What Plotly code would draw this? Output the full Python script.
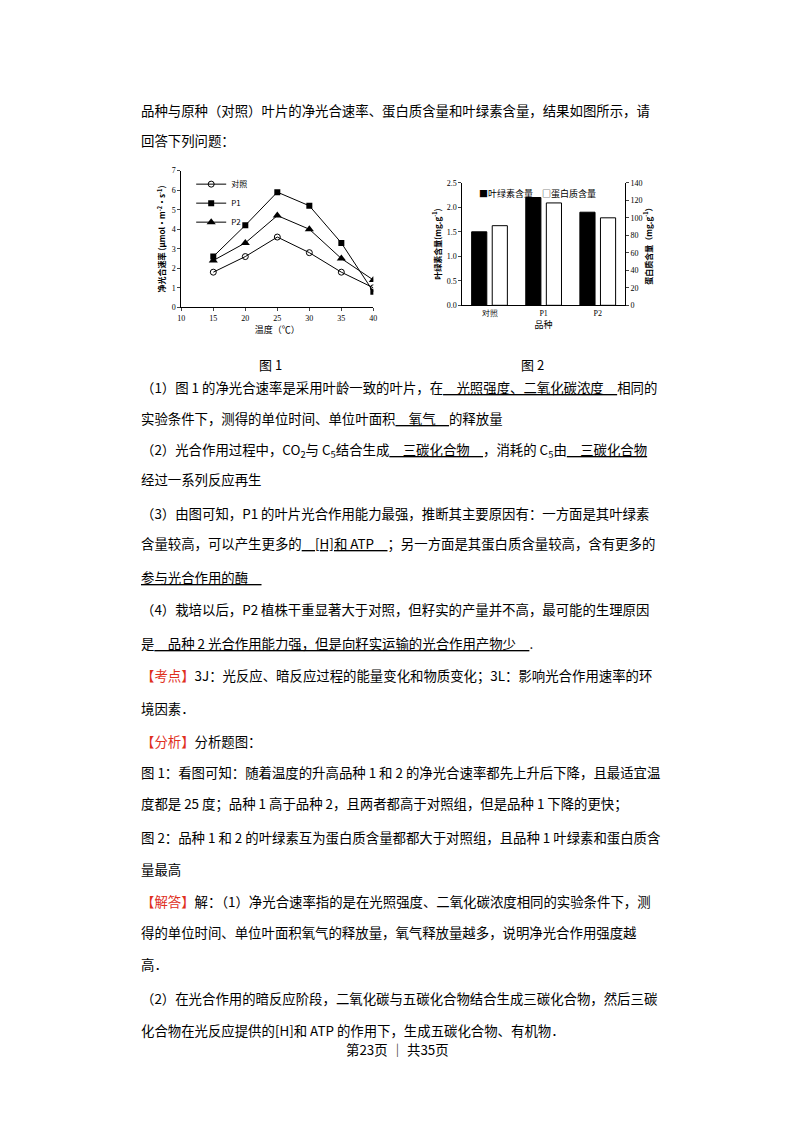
import plotly.graph_objects as go

temps = [15, 20, 25, 30, 35, 40]
ctrl = [1.8, 2.6, 3.6, 2.8, 1.8, 1.0]
p1 = [2.6, 4.2, 5.9, 5.2, 3.3, 0.8]
p2 = [2.4, 3.3, 4.7, 4.0, 2.5, 1.4]
varieties = ["对照", "P1", "P2"]
chloro = [1.5, 2.2, 1.9]
protein = [91, 117, 100]

W, H = 800, 1132
def px(x): return (x - 11) / W
def py(y): return 1 - (113 + (y - 127) / 0.98) / H

F = "Noto Sans CJK SC"
fig = go.Figure()
mk = dict(color="black", size=6)
fig.add_trace(go.Scatter(x=temps, y=ctrl, name="对照", mode="lines+markers", line=dict(color="black", width=1),
                         marker=dict(symbol="circle-open", **mk), xaxis="x", yaxis="y"))
fig.add_trace(go.Scatter(x=temps, y=p1, name="P1", mode="lines+markers", line=dict(color="black", width=1),
                         marker=dict(symbol="square", **mk), xaxis="x", yaxis="y"))
fig.add_trace(go.Scatter(x=temps, y=p2, name="P2", mode="lines+markers", line=dict(color="black", width=1),
                         marker=dict(symbol="triangle-up", color="black", size=8), xaxis="x", yaxis="y"))
fig.add_trace(go.Bar(x=varieties, y=chloro, name="叶绿素含量", marker=dict(color="black", line=dict(color="black", width=1)),
                     xaxis="x2", yaxis="y2", offsetgroup="a", width=0.28, offset=-0.33, showlegend=False))
fig.add_trace(go.Bar(x=varieties, y=protein, name="蛋白质含量", marker=dict(color="white", line=dict(color="black", width=1)),
                     xaxis="x2", yaxis="y3", offsetgroup="b", width=0.28, offset=0.05, showlegend=False))

ax = dict(showline=True, linecolor="black", linewidth=1, ticks="outside", ticklen=3, showgrid=False, zeroline=False,
          tickfont=dict(size=8, family="Liberation Serif", color="black"))
fig.update_layout(
    width=W, height=H, margin=dict(l=0, r=0, t=0, b=0), paper_bgcolor="white", plot_bgcolor="white",
    font=dict(family=F, color="black"), showlegend=True,
    legend=dict(x=px(192), y=py(172), xanchor="left", yanchor="top", bgcolor="rgba(0,0,0,0)",
                font=dict(size=8, family=F), tracegroupgap=0, itemwidth=30),
    xaxis=dict(ax, domain=[px(182), px(376)], range=[10, 40], dtick=5, anchor="y",
               title=dict(text="温度（℃）", font=dict(size=9), standoff=2)),
    yaxis=dict(ax, domain=[py(308), py(173)], range=[0, 7], dtick=1, anchor="x",
               title=dict(text="<b>净光合速率 (μmol·m<sup>-2</sup>·s<sup>-1</sup>)</b>", font=dict(size=8), standoff=4)),
    xaxis2=dict(ax, domain=[px(466), px(630)], anchor="y2", ticks="",
                title=dict(text="品种", font=dict(size=9), standoff=2)),
    yaxis2=dict(ax, domain=[py(306), py(185)], range=[0, 2.5], dtick=0.5, tickformat=".1f", anchor="x2",
                title=dict(text="<b>叶绿素含量(mg.g<sup>-1</sup>)</b>", font=dict(size=8), standoff=4)),
    yaxis3=dict(ax, domain=[py(306), py(185)], range=[0, 140], dtick=20, overlaying="y2", side="right", anchor="x2",
                title=dict(text="<b>蛋白质含量（mg.g<sup>-1</sup>）</b>", font=dict(size=8), standoff=4)),
    bargap=0.3,
)

def U(t): return f'<span style="text-decoration:underline">{t}</span>'

lines = [
    (113, "品种与原种（对照）叶片的净光合速率、蛋白质含量和叶绿素含量，结果如图所示，请"),
    (143, "回答下列问题："),
    (387, "（1）图 1 的净光合速率是采用叶龄一致的叶片，在" + U("　光照强度、二氧化碳浓度　") + "相同的"),
    (417, "实验条件下，测得的单位时间、单位叶面积" + U("　氧气　") + "的释放量"),
    (449, "（2）光合作用过程中，CO<sub>2</sub>与 C<sub>5</sub>结合生成" + U("　三碳化合物　") + "，消耗的 C<sub>5</sub>由" + U("　三碳化合物")),
    (478, "经过一系列反应再生"),
    (511, "（3）由图可知，P1 的叶片光合作用能力最强，推断其主要原因有：一方面是其叶绿素"),
    (541, "含量较高，可以产生更多的" + U("　[H]和 ATP　") + "；另一方面是其蛋白质含量较高，含有更多的"),
    (574, U("参与光合作用的酶　")),
    (606, "（4）栽培以后，P2 植株干重显著大于对照，但籽实的产量并不高，最可能的生理原因"),
    (640, "是" + U("　品种 2 光合作用能力强，但是向籽实运输的光合作用产物少　") + "."),
    (671, '<span style="color:#e0301e">【考点】</span>3J：光反应、暗反应过程的能量变化和物质变化；3L：影响光合作用速率的环'),
    (704, "境因素．"),
    (736, '<span style="color:#e0301e">【分析】</span>分析题图：'),
    (767, "图 1：看图可知：随着温度的升高品种 1 和 2 的净光合速率都先上升后下降，且最适宜温"),
    (798, "度都是 25 度；品种 1 高于品种 2，且两者都高于对照组，但是品种 1 下降的更快；"),
    (831, "图 2：品种 1 和 2 的叶绿素互为蛋白质含量都都大于对照组，且品种 1 叶绿素和蛋白质含"),
    (863, "量最高"),
    (894, '<span style="color:#e0301e">【解答】</span>解：（1）净光合速率指的是在光照强度、二氧化碳浓度相同的实验条件下，测'),
    (925, "得的单位时间、单位叶面积氧气的释放量，氧气释放量越多，说明净光合作用强度越"),
    (957, "高．"),
    (990, "（2）在光合作用的暗反应阶段，二氧化碳与五碳化合物结合生成三碳化合物，然后三碳"),
    (1022, "化合物在光反应提供的[H]和 ATP 的作用下，生成五碳化合物、有机物．"),
]
for y, t in lines:
    fig.add_annotation(text=t, x=px(139), y=py(y), xref="paper", yref="paper", xanchor="left", yanchor="middle",
                       showarrow=False, font=dict(size=13.4, family=F, color="black"))
fig.add_annotation(text="第23页 ｜ 共35页", x=px(400), y=py(1053), xref="paper", yref="paper", showarrow=False,
                   font=dict(size=13.4, family=F))
fig.add_annotation(text="图 1", x=px(258), y=py(353), xref="paper", yref="paper", showarrow=False, font=dict(size=13, family=F))
fig.add_annotation(text="图 2", x=px(550), y=py(353), xref="paper", yref="paper", showarrow=False, font=dict(size=13, family=F))
fig.add_annotation(text="■叶绿素含量　□蛋白质含量", x=px(481), y=py(187), xref="paper", yref="paper",
                   xanchor="left", showarrow=False, font=dict(size=9, family=F))
fig.write_html("out.html")
